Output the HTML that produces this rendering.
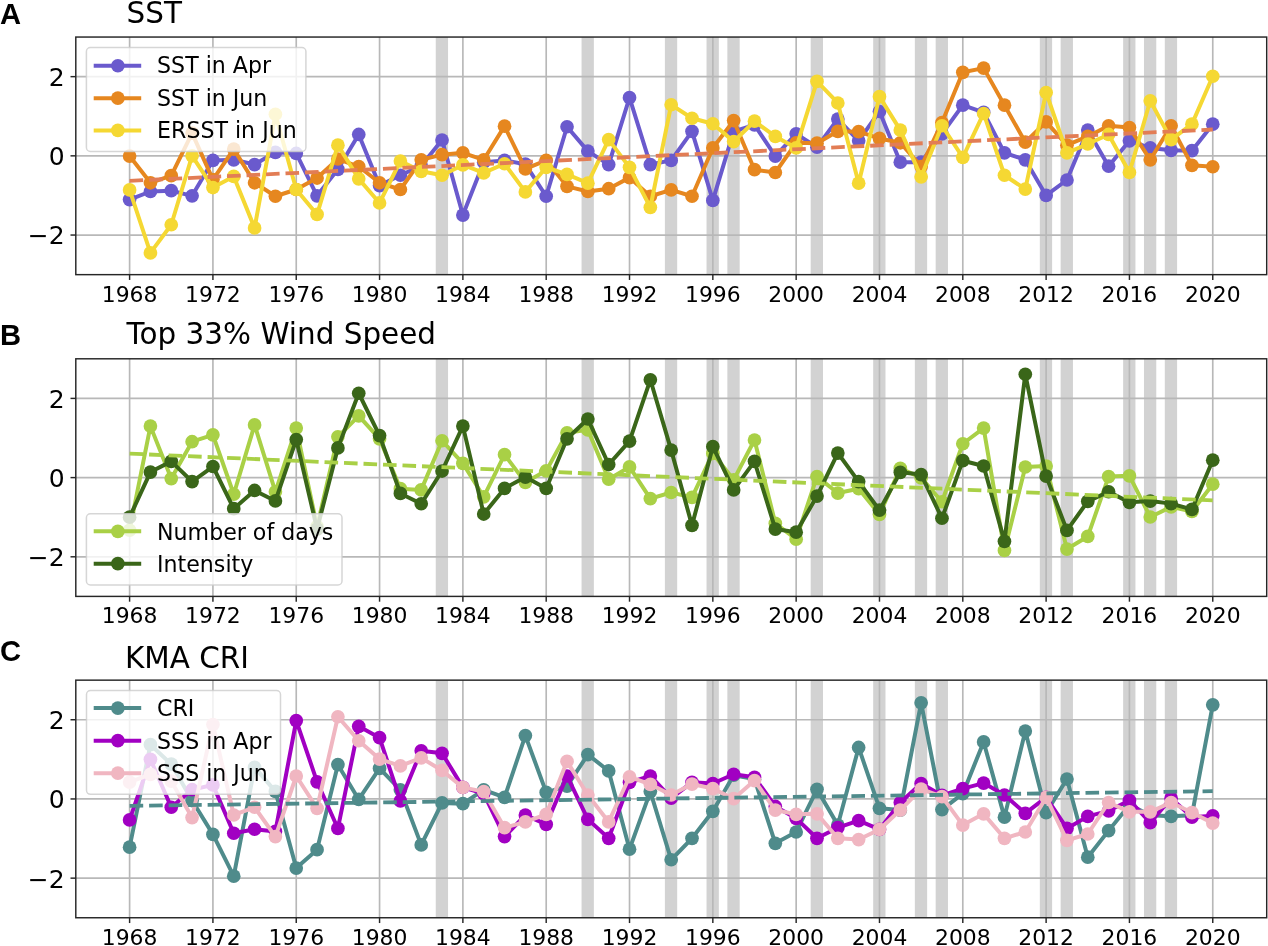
<!DOCTYPE html>
<html lang="en"><head><meta charset="utf-8"><title>SST, Wind Speed and KMA CRI time series</title>
<style>html,body{margin:0;padding:0;background:#fff}svg{display:block;will-change:transform}text{font-family:'DejaVu Sans','Liberation Sans',sans-serif;fill:#000}.lab{font-family:'Liberation Sans','DejaVu Sans',sans-serif;font-weight:bold}</style></head><body>
<svg width="1268" height="946" viewBox="0 0 1268 946">
<rect width="1268" height="946" fill="#fff"/>
<g id="panelA">
<clipPath id="clip0"><rect x="75.8" y="37.05" width="1190.90" height="237.60"/></clipPath>
<g fill="#d2d2d2">
<rect x="435.75" y="37.05" width="12.3" height="237.60"/>
<rect x="581.56" y="37.05" width="12.3" height="237.60"/>
<rect x="664.88" y="37.05" width="12.3" height="237.60"/>
<rect x="706.54" y="37.05" width="12.3" height="237.60"/>
<rect x="727.37" y="37.05" width="12.3" height="237.60"/>
<rect x="810.69" y="37.05" width="12.3" height="237.60"/>
<rect x="873.18" y="37.05" width="12.3" height="237.60"/>
<rect x="914.84" y="37.05" width="12.3" height="237.60"/>
<rect x="935.67" y="37.05" width="12.3" height="237.60"/>
<rect x="1039.82" y="37.05" width="12.3" height="237.60"/>
<rect x="1060.65" y="37.05" width="12.3" height="237.60"/>
<rect x="1123.14" y="37.05" width="12.3" height="237.60"/>
<rect x="1143.97" y="37.05" width="12.3" height="237.60"/>
<rect x="1164.80" y="37.05" width="12.3" height="237.60"/>
</g>
<g stroke="#b8b8b8" stroke-width="1.67" fill="none">
<line x1="129.60" x2="129.60" y1="37.05" y2="274.65"/>
<line x1="212.92" x2="212.92" y1="37.05" y2="274.65"/>
<line x1="296.24" x2="296.24" y1="37.05" y2="274.65"/>
<line x1="379.56" x2="379.56" y1="37.05" y2="274.65"/>
<line x1="462.88" x2="462.88" y1="37.05" y2="274.65"/>
<line x1="546.20" x2="546.20" y1="37.05" y2="274.65"/>
<line x1="629.52" x2="629.52" y1="37.05" y2="274.65"/>
<line x1="712.84" x2="712.84" y1="37.05" y2="274.65"/>
<line x1="796.16" x2="796.16" y1="37.05" y2="274.65"/>
<line x1="879.48" x2="879.48" y1="37.05" y2="274.65"/>
<line x1="962.80" x2="962.80" y1="37.05" y2="274.65"/>
<line x1="1046.12" x2="1046.12" y1="37.05" y2="274.65"/>
<line x1="1129.44" x2="1129.44" y1="37.05" y2="274.65"/>
<line x1="1212.76" x2="1212.76" y1="37.05" y2="274.65"/>
<line x1="75.8" x2="1266.7" y1="235.05" y2="235.05"/>
<line x1="75.8" x2="1266.7" y1="155.85" y2="155.85"/>
<line x1="75.8" x2="1266.7" y1="76.65" y2="76.65"/>
</g>
<g clip-path="url(#clip0)">
<polyline points="129.60,199.61 150.43,191.49 171.26,190.70 192.09,195.85 212.92,160.40 233.75,159.81 254.58,164.56 275.41,152.29 296.24,153.47 317.07,195.85 337.90,169.31 358.73,134.47 379.56,185.55 400.39,175.25 421.22,165.75 442.05,140.01 462.88,215.05 483.71,162.19 504.54,160.40 525.37,164.17 546.20,196.24 567.03,126.74 587.86,151.10 608.69,164.56 629.52,97.64 650.35,164.56 671.18,160.40 692.01,131.30 712.84,200.40 733.67,131.30 754.50,124.96 775.33,156.09 796.16,133.83 816.99,147.14 837.82,119.02 858.65,140.80 879.48,111.50 900.31,162.19 921.14,162.19 941.97,133.83 962.80,105.16 983.63,112.29 1004.46,152.80 1025.29,159.81 1046.12,195.45 1066.95,180.01 1087.78,130.11 1108.61,166.15 1129.44,140.80 1150.27,147.93 1171.10,150.31 1191.93,150.70 1212.76,124.17" fill="none" stroke="#6a5acd" stroke-width="4.0" stroke-linejoin="round" stroke-linecap="butt"/>
<g fill="#6a5acd">
<circle cx="129.60" cy="199.61" r="6.85"/>
<circle cx="150.43" cy="191.49" r="6.85"/>
<circle cx="171.26" cy="190.70" r="6.85"/>
<circle cx="192.09" cy="195.85" r="6.85"/>
<circle cx="212.92" cy="160.40" r="6.85"/>
<circle cx="233.75" cy="159.81" r="6.85"/>
<circle cx="254.58" cy="164.56" r="6.85"/>
<circle cx="275.41" cy="152.29" r="6.85"/>
<circle cx="296.24" cy="153.47" r="6.85"/>
<circle cx="317.07" cy="195.85" r="6.85"/>
<circle cx="337.90" cy="169.31" r="6.85"/>
<circle cx="358.73" cy="134.47" r="6.85"/>
<circle cx="379.56" cy="185.55" r="6.85"/>
<circle cx="400.39" cy="175.25" r="6.85"/>
<circle cx="421.22" cy="165.75" r="6.85"/>
<circle cx="442.05" cy="140.01" r="6.85"/>
<circle cx="462.88" cy="215.05" r="6.85"/>
<circle cx="483.71" cy="162.19" r="6.85"/>
<circle cx="504.54" cy="160.40" r="6.85"/>
<circle cx="525.37" cy="164.17" r="6.85"/>
<circle cx="546.20" cy="196.24" r="6.85"/>
<circle cx="567.03" cy="126.74" r="6.85"/>
<circle cx="587.86" cy="151.10" r="6.85"/>
<circle cx="608.69" cy="164.56" r="6.85"/>
<circle cx="629.52" cy="97.64" r="6.85"/>
<circle cx="650.35" cy="164.56" r="6.85"/>
<circle cx="671.18" cy="160.40" r="6.85"/>
<circle cx="692.01" cy="131.30" r="6.85"/>
<circle cx="712.84" cy="200.40" r="6.85"/>
<circle cx="733.67" cy="131.30" r="6.85"/>
<circle cx="754.50" cy="124.96" r="6.85"/>
<circle cx="775.33" cy="156.09" r="6.85"/>
<circle cx="796.16" cy="133.83" r="6.85"/>
<circle cx="816.99" cy="147.14" r="6.85"/>
<circle cx="837.82" cy="119.02" r="6.85"/>
<circle cx="858.65" cy="140.80" r="6.85"/>
<circle cx="879.48" cy="111.50" r="6.85"/>
<circle cx="900.31" cy="162.19" r="6.85"/>
<circle cx="921.14" cy="162.19" r="6.85"/>
<circle cx="941.97" cy="133.83" r="6.85"/>
<circle cx="962.80" cy="105.16" r="6.85"/>
<circle cx="983.63" cy="112.29" r="6.85"/>
<circle cx="1004.46" cy="152.80" r="6.85"/>
<circle cx="1025.29" cy="159.81" r="6.85"/>
<circle cx="1046.12" cy="195.45" r="6.85"/>
<circle cx="1066.95" cy="180.01" r="6.85"/>
<circle cx="1087.78" cy="130.11" r="6.85"/>
<circle cx="1108.61" cy="166.15" r="6.85"/>
<circle cx="1129.44" cy="140.80" r="6.85"/>
<circle cx="1150.27" cy="147.93" r="6.85"/>
<circle cx="1171.10" cy="150.31" r="6.85"/>
<circle cx="1191.93" cy="150.70" r="6.85"/>
<circle cx="1212.76" cy="124.17" r="6.85"/>
</g>
<polyline points="129.60,156.09 150.43,182.78 171.26,175.65 192.09,133.08 212.92,179.61 233.75,149.12 254.58,182.78 275.41,196.24 296.24,189.51 317.07,178.03 337.90,159.02 358.73,166.54 379.56,182.78 400.39,189.51 421.22,159.81 442.05,154.66 462.88,152.80 483.71,159.81 504.54,126.15 525.37,168.92 546.20,160.40 567.03,186.34 587.86,191.49 608.69,188.72 629.52,177.63 650.35,196.24 671.18,189.91 692.01,196.24 712.84,147.93 733.67,120.61 754.50,169.71 775.33,172.48 796.16,142.78 816.99,143.18 837.82,131.30 858.65,131.69 879.48,138.43 900.31,142.78 921.14,166.54 941.97,122.59 962.80,72.29 983.63,68.14 1004.46,105.16 1025.29,142.19 1046.12,121.95 1066.95,145.16 1087.78,136.45 1108.61,125.75 1129.44,127.54 1150.27,159.81 1171.10,125.75 1191.93,165.35 1212.76,166.74" fill="none" stroke="#e6871f" stroke-width="4.0" stroke-linejoin="round" stroke-linecap="butt"/>
<g fill="#e6871f">
<circle cx="129.60" cy="156.09" r="6.85"/>
<circle cx="150.43" cy="182.78" r="6.85"/>
<circle cx="171.26" cy="175.65" r="6.85"/>
<circle cx="192.09" cy="133.08" r="6.85"/>
<circle cx="212.92" cy="179.61" r="6.85"/>
<circle cx="233.75" cy="149.12" r="6.85"/>
<circle cx="254.58" cy="182.78" r="6.85"/>
<circle cx="275.41" cy="196.24" r="6.85"/>
<circle cx="296.24" cy="189.51" r="6.85"/>
<circle cx="317.07" cy="178.03" r="6.85"/>
<circle cx="337.90" cy="159.02" r="6.85"/>
<circle cx="358.73" cy="166.54" r="6.85"/>
<circle cx="379.56" cy="182.78" r="6.85"/>
<circle cx="400.39" cy="189.51" r="6.85"/>
<circle cx="421.22" cy="159.81" r="6.85"/>
<circle cx="442.05" cy="154.66" r="6.85"/>
<circle cx="462.88" cy="152.80" r="6.85"/>
<circle cx="483.71" cy="159.81" r="6.85"/>
<circle cx="504.54" cy="126.15" r="6.85"/>
<circle cx="525.37" cy="168.92" r="6.85"/>
<circle cx="546.20" cy="160.40" r="6.85"/>
<circle cx="567.03" cy="186.34" r="6.85"/>
<circle cx="587.86" cy="191.49" r="6.85"/>
<circle cx="608.69" cy="188.72" r="6.85"/>
<circle cx="629.52" cy="177.63" r="6.85"/>
<circle cx="650.35" cy="196.24" r="6.85"/>
<circle cx="671.18" cy="189.91" r="6.85"/>
<circle cx="692.01" cy="196.24" r="6.85"/>
<circle cx="712.84" cy="147.93" r="6.85"/>
<circle cx="733.67" cy="120.61" r="6.85"/>
<circle cx="754.50" cy="169.71" r="6.85"/>
<circle cx="775.33" cy="172.48" r="6.85"/>
<circle cx="796.16" cy="142.78" r="6.85"/>
<circle cx="816.99" cy="143.18" r="6.85"/>
<circle cx="837.82" cy="131.30" r="6.85"/>
<circle cx="858.65" cy="131.69" r="6.85"/>
<circle cx="879.48" cy="138.43" r="6.85"/>
<circle cx="900.31" cy="142.78" r="6.85"/>
<circle cx="921.14" cy="166.54" r="6.85"/>
<circle cx="941.97" cy="122.59" r="6.85"/>
<circle cx="962.80" cy="72.29" r="6.85"/>
<circle cx="983.63" cy="68.14" r="6.85"/>
<circle cx="1004.46" cy="105.16" r="6.85"/>
<circle cx="1025.29" cy="142.19" r="6.85"/>
<circle cx="1046.12" cy="121.95" r="6.85"/>
<circle cx="1066.95" cy="145.16" r="6.85"/>
<circle cx="1087.78" cy="136.45" r="6.85"/>
<circle cx="1108.61" cy="125.75" r="6.85"/>
<circle cx="1129.44" cy="127.54" r="6.85"/>
<circle cx="1150.27" cy="159.81" r="6.85"/>
<circle cx="1171.10" cy="125.75" r="6.85"/>
<circle cx="1191.93" cy="165.35" r="6.85"/>
<circle cx="1212.76" cy="166.74" r="6.85"/>
</g>
<polyline points="129.60,189.91 150.43,252.87 171.26,224.75 192.09,155.85 212.92,187.53 233.75,176.44 254.58,227.92 275.41,114.27 296.24,189.51 317.07,214.46 337.90,145.16 358.73,178.82 379.56,202.97 400.39,161.00 421.22,171.29 442.05,175.25 462.88,164.96 483.71,172.88 504.54,163.77 525.37,191.89 546.20,167.33 567.03,174.46 587.86,183.17 608.69,139.61 629.52,167.33 650.35,207.33 671.18,104.77 692.01,118.23 712.84,123.77 733.67,141.59 754.50,121.20 775.33,136.45 796.16,147.93 816.99,81.40 837.82,102.98 858.65,183.17 879.48,96.65 900.31,130.11 921.14,176.84 941.97,125.75 962.80,157.43 983.63,113.48 1004.46,175.25 1025.29,189.11 1046.12,92.49 1066.95,152.80 1087.78,143.97 1108.61,134.47 1129.44,172.48 1150.27,100.81 1171.10,139.61 1191.93,124.17 1212.76,76.25" fill="none" stroke="#f5d833" stroke-width="4.0" stroke-linejoin="round" stroke-linecap="butt"/>
<g fill="#f5d833">
<circle cx="129.60" cy="189.91" r="6.85"/>
<circle cx="150.43" cy="252.87" r="6.85"/>
<circle cx="171.26" cy="224.75" r="6.85"/>
<circle cx="192.09" cy="155.85" r="6.85"/>
<circle cx="212.92" cy="187.53" r="6.85"/>
<circle cx="233.75" cy="176.44" r="6.85"/>
<circle cx="254.58" cy="227.92" r="6.85"/>
<circle cx="275.41" cy="114.27" r="6.85"/>
<circle cx="296.24" cy="189.51" r="6.85"/>
<circle cx="317.07" cy="214.46" r="6.85"/>
<circle cx="337.90" cy="145.16" r="6.85"/>
<circle cx="358.73" cy="178.82" r="6.85"/>
<circle cx="379.56" cy="202.97" r="6.85"/>
<circle cx="400.39" cy="161.00" r="6.85"/>
<circle cx="421.22" cy="171.29" r="6.85"/>
<circle cx="442.05" cy="175.25" r="6.85"/>
<circle cx="462.88" cy="164.96" r="6.85"/>
<circle cx="483.71" cy="172.88" r="6.85"/>
<circle cx="504.54" cy="163.77" r="6.85"/>
<circle cx="525.37" cy="191.89" r="6.85"/>
<circle cx="546.20" cy="167.33" r="6.85"/>
<circle cx="567.03" cy="174.46" r="6.85"/>
<circle cx="587.86" cy="183.17" r="6.85"/>
<circle cx="608.69" cy="139.61" r="6.85"/>
<circle cx="629.52" cy="167.33" r="6.85"/>
<circle cx="650.35" cy="207.33" r="6.85"/>
<circle cx="671.18" cy="104.77" r="6.85"/>
<circle cx="692.01" cy="118.23" r="6.85"/>
<circle cx="712.84" cy="123.77" r="6.85"/>
<circle cx="733.67" cy="141.59" r="6.85"/>
<circle cx="754.50" cy="121.20" r="6.85"/>
<circle cx="775.33" cy="136.45" r="6.85"/>
<circle cx="796.16" cy="147.93" r="6.85"/>
<circle cx="816.99" cy="81.40" r="6.85"/>
<circle cx="837.82" cy="102.98" r="6.85"/>
<circle cx="858.65" cy="183.17" r="6.85"/>
<circle cx="879.48" cy="96.65" r="6.85"/>
<circle cx="900.31" cy="130.11" r="6.85"/>
<circle cx="921.14" cy="176.84" r="6.85"/>
<circle cx="941.97" cy="125.75" r="6.85"/>
<circle cx="962.80" cy="157.43" r="6.85"/>
<circle cx="983.63" cy="113.48" r="6.85"/>
<circle cx="1004.46" cy="175.25" r="6.85"/>
<circle cx="1025.29" cy="189.11" r="6.85"/>
<circle cx="1046.12" cy="92.49" r="6.85"/>
<circle cx="1066.95" cy="152.80" r="6.85"/>
<circle cx="1087.78" cy="143.97" r="6.85"/>
<circle cx="1108.61" cy="134.47" r="6.85"/>
<circle cx="1129.44" cy="172.48" r="6.85"/>
<circle cx="1150.27" cy="100.81" r="6.85"/>
<circle cx="1171.10" cy="139.61" r="6.85"/>
<circle cx="1191.93" cy="124.17" r="6.85"/>
<circle cx="1212.76" cy="76.25" r="6.85"/>
</g>
<line x1="129.60" y1="180.80" x2="1212.76" y2="129.52" stroke="#e27d55" stroke-width="3.8" stroke-dasharray="13.61 5.9"/>
</g>
<rect x="75.8" y="37.05" width="1190.90" height="237.60" fill="none" stroke="#262626" stroke-width="1.45"/>
<g stroke="#262626" stroke-width="1.45">
<line x1="129.60" x2="129.60" y1="274.65" y2="279.95"/>
<line x1="212.92" x2="212.92" y1="274.65" y2="279.95"/>
<line x1="296.24" x2="296.24" y1="274.65" y2="279.95"/>
<line x1="379.56" x2="379.56" y1="274.65" y2="279.95"/>
<line x1="462.88" x2="462.88" y1="274.65" y2="279.95"/>
<line x1="546.20" x2="546.20" y1="274.65" y2="279.95"/>
<line x1="629.52" x2="629.52" y1="274.65" y2="279.95"/>
<line x1="712.84" x2="712.84" y1="274.65" y2="279.95"/>
<line x1="796.16" x2="796.16" y1="274.65" y2="279.95"/>
<line x1="879.48" x2="879.48" y1="274.65" y2="279.95"/>
<line x1="962.80" x2="962.80" y1="274.65" y2="279.95"/>
<line x1="1046.12" x2="1046.12" y1="274.65" y2="279.95"/>
<line x1="1129.44" x2="1129.44" y1="274.65" y2="279.95"/>
<line x1="1212.76" x2="1212.76" y1="274.65" y2="279.95"/>
<line x1="70.50" x2="75.8" y1="235.05" y2="235.05"/>
<line x1="70.50" x2="75.8" y1="155.85" y2="155.85"/>
<line x1="70.50" x2="75.8" y1="76.65" y2="76.65"/>
</g>
<g font-size="21.875">
<text x="129.60" y="301.55" text-anchor="middle">1968</text>
<text x="212.92" y="301.55" text-anchor="middle">1972</text>
<text x="296.24" y="301.55" text-anchor="middle">1976</text>
<text x="379.56" y="301.55" text-anchor="middle">1980</text>
<text x="462.88" y="301.55" text-anchor="middle">1984</text>
<text x="546.20" y="301.55" text-anchor="middle">1988</text>
<text x="629.52" y="301.55" text-anchor="middle">1992</text>
<text x="712.84" y="301.55" text-anchor="middle">1996</text>
<text x="796.16" y="301.55" text-anchor="middle">2000</text>
<text x="879.48" y="301.55" text-anchor="middle">2004</text>
<text x="962.80" y="301.55" text-anchor="middle">2008</text>
<text x="1046.12" y="301.55" text-anchor="middle">2012</text>
<text x="1129.44" y="301.55" text-anchor="middle">2016</text>
<text x="1212.76" y="301.55" text-anchor="middle">2020</text>
<text x="64.70" y="244.40" text-anchor="end" font-size="25.0">−2</text>
<text x="64.70" y="165.20" text-anchor="end" font-size="25.0">0</text>
<text x="64.70" y="86.00" text-anchor="end" font-size="25.0">2</text>
</g>
<rect x="86.4" y="47.5" width="219.5" height="104.00" rx="4" ry="4" fill="#fff" fill-opacity="0.8" stroke="#ccc" stroke-opacity="0.8" stroke-width="1.5"/>
<line x1="93.7" x2="141.2" y1="65.75" y2="65.75" stroke="#6a5acd" stroke-width="4.0"/>
<circle cx="117.85" cy="65.75" r="6.85" fill="#6a5acd"/>
<text x="157.1" y="73.35" font-size="22.1">SST in Apr</text>
<line x1="93.7" x2="141.2" y1="98.15" y2="98.15" stroke="#e6871f" stroke-width="4.0"/>
<circle cx="117.85" cy="98.15" r="6.85" fill="#e6871f"/>
<text x="157.1" y="105.75" font-size="22.1">SST in Jun</text>
<line x1="93.7" x2="141.2" y1="130.45" y2="130.45" stroke="#f5d833" stroke-width="4.0"/>
<circle cx="117.85" cy="130.45" r="6.85" fill="#f5d833"/>
<text x="157.1" y="138.05" font-size="22.1">ERSST in Jun</text>
<text x="126.6" y="22.7" font-size="29.45">SST</text>
<text class="lab" x="0" y="24.0" font-size="29.17">A</text>
</g>
<g id="panelB">
<clipPath id="clip1"><rect x="75.8" y="358.80" width="1190.90" height="237.60"/></clipPath>
<g fill="#d2d2d2">
<rect x="435.75" y="358.80" width="12.3" height="237.60"/>
<rect x="581.56" y="358.80" width="12.3" height="237.60"/>
<rect x="664.88" y="358.80" width="12.3" height="237.60"/>
<rect x="706.54" y="358.80" width="12.3" height="237.60"/>
<rect x="727.37" y="358.80" width="12.3" height="237.60"/>
<rect x="810.69" y="358.80" width="12.3" height="237.60"/>
<rect x="873.18" y="358.80" width="12.3" height="237.60"/>
<rect x="914.84" y="358.80" width="12.3" height="237.60"/>
<rect x="935.67" y="358.80" width="12.3" height="237.60"/>
<rect x="1039.82" y="358.80" width="12.3" height="237.60"/>
<rect x="1060.65" y="358.80" width="12.3" height="237.60"/>
<rect x="1123.14" y="358.80" width="12.3" height="237.60"/>
<rect x="1143.97" y="358.80" width="12.3" height="237.60"/>
<rect x="1164.80" y="358.80" width="12.3" height="237.60"/>
</g>
<g stroke="#b8b8b8" stroke-width="1.67" fill="none">
<line x1="129.60" x2="129.60" y1="358.80" y2="596.40"/>
<line x1="212.92" x2="212.92" y1="358.80" y2="596.40"/>
<line x1="296.24" x2="296.24" y1="358.80" y2="596.40"/>
<line x1="379.56" x2="379.56" y1="358.80" y2="596.40"/>
<line x1="462.88" x2="462.88" y1="358.80" y2="596.40"/>
<line x1="546.20" x2="546.20" y1="358.80" y2="596.40"/>
<line x1="629.52" x2="629.52" y1="358.80" y2="596.40"/>
<line x1="712.84" x2="712.84" y1="358.80" y2="596.40"/>
<line x1="796.16" x2="796.16" y1="358.80" y2="596.40"/>
<line x1="879.48" x2="879.48" y1="358.80" y2="596.40"/>
<line x1="962.80" x2="962.80" y1="358.80" y2="596.40"/>
<line x1="1046.12" x2="1046.12" y1="358.80" y2="596.40"/>
<line x1="1129.44" x2="1129.44" y1="358.80" y2="596.40"/>
<line x1="1212.76" x2="1212.76" y1="358.80" y2="596.40"/>
<line x1="75.8" x2="1266.7" y1="556.80" y2="556.80"/>
<line x1="75.8" x2="1266.7" y1="477.60" y2="477.60"/>
<line x1="75.8" x2="1266.7" y1="398.40" y2="398.40"/>
</g>
<g clip-path="url(#clip1)">
<polyline points="129.60,530.27 150.43,426.12 171.26,478.59 192.09,441.72 212.92,434.83 233.75,494.23 254.58,424.93 275.41,491.86 296.24,428.10 317.07,526.70 337.90,436.81 358.73,415.82 379.56,438.79 400.39,488.69 421.22,489.88 442.05,440.77 462.88,463.46 483.71,496.81 504.54,454.63 525.37,482.35 546.20,470.87 567.03,432.85 587.86,429.88 608.69,479.18 629.52,466.91 650.35,498.59 671.18,492.49 692.01,497.40 712.84,453.44 733.67,479.86 754.50,439.98 775.33,523.34 796.16,539.26 816.99,476.57 837.82,493.04 858.65,488.69 879.48,514.43 900.31,468.25 921.14,477.84 941.97,501.76 962.80,443.74 983.63,428.10 1004.46,550.46 1025.29,466.99 1046.12,466.00 1066.95,549.08 1087.78,536.45 1108.61,476.57 1129.44,475.82 1150.27,517.00 1171.10,506.90 1191.93,511.46 1212.76,484.17" fill="none" stroke="#a9d046" stroke-width="4.0" stroke-linejoin="round" stroke-linecap="butt"/>
<g fill="#a9d046">
<circle cx="129.60" cy="530.27" r="6.85"/>
<circle cx="150.43" cy="426.12" r="6.85"/>
<circle cx="171.26" cy="478.59" r="6.85"/>
<circle cx="192.09" cy="441.72" r="6.85"/>
<circle cx="212.92" cy="434.83" r="6.85"/>
<circle cx="233.75" cy="494.23" r="6.85"/>
<circle cx="254.58" cy="424.93" r="6.85"/>
<circle cx="275.41" cy="491.86" r="6.85"/>
<circle cx="296.24" cy="428.10" r="6.85"/>
<circle cx="317.07" cy="526.70" r="6.85"/>
<circle cx="337.90" cy="436.81" r="6.85"/>
<circle cx="358.73" cy="415.82" r="6.85"/>
<circle cx="379.56" cy="438.79" r="6.85"/>
<circle cx="400.39" cy="488.69" r="6.85"/>
<circle cx="421.22" cy="489.88" r="6.85"/>
<circle cx="442.05" cy="440.77" r="6.85"/>
<circle cx="462.88" cy="463.46" r="6.85"/>
<circle cx="483.71" cy="496.81" r="6.85"/>
<circle cx="504.54" cy="454.63" r="6.85"/>
<circle cx="525.37" cy="482.35" r="6.85"/>
<circle cx="546.20" cy="470.87" r="6.85"/>
<circle cx="567.03" cy="432.85" r="6.85"/>
<circle cx="587.86" cy="429.88" r="6.85"/>
<circle cx="608.69" cy="479.18" r="6.85"/>
<circle cx="629.52" cy="466.91" r="6.85"/>
<circle cx="650.35" cy="498.59" r="6.85"/>
<circle cx="671.18" cy="492.49" r="6.85"/>
<circle cx="692.01" cy="497.40" r="6.85"/>
<circle cx="712.84" cy="453.44" r="6.85"/>
<circle cx="733.67" cy="479.86" r="6.85"/>
<circle cx="754.50" cy="439.98" r="6.85"/>
<circle cx="775.33" cy="523.34" r="6.85"/>
<circle cx="796.16" cy="539.26" r="6.85"/>
<circle cx="816.99" cy="476.57" r="6.85"/>
<circle cx="837.82" cy="493.04" r="6.85"/>
<circle cx="858.65" cy="488.69" r="6.85"/>
<circle cx="879.48" cy="514.43" r="6.85"/>
<circle cx="900.31" cy="468.25" r="6.85"/>
<circle cx="921.14" cy="477.84" r="6.85"/>
<circle cx="941.97" cy="501.76" r="6.85"/>
<circle cx="962.80" cy="443.74" r="6.85"/>
<circle cx="983.63" cy="428.10" r="6.85"/>
<circle cx="1004.46" cy="550.46" r="6.85"/>
<circle cx="1025.29" cy="466.99" r="6.85"/>
<circle cx="1046.12" cy="466.00" r="6.85"/>
<circle cx="1066.95" cy="549.08" r="6.85"/>
<circle cx="1087.78" cy="536.45" r="6.85"/>
<circle cx="1108.61" cy="476.57" r="6.85"/>
<circle cx="1129.44" cy="475.82" r="6.85"/>
<circle cx="1150.27" cy="517.00" r="6.85"/>
<circle cx="1171.10" cy="506.90" r="6.85"/>
<circle cx="1191.93" cy="511.46" r="6.85"/>
<circle cx="1212.76" cy="484.17" r="6.85"/>
</g>
<polyline points="129.60,517.20 150.43,472.06 171.26,461.36 192.09,481.56 212.92,466.51 233.75,508.69 254.58,490.47 275.41,500.96 296.24,439.58 317.07,529.08 337.90,447.90 358.73,393.25 379.56,435.62 400.39,493.44 421.22,503.74 442.05,471.03 462.88,426.12 483.71,514.03 504.54,488.45 525.37,477.09 546.20,488.45 567.03,438.79 587.86,418.99 608.69,464.53 629.52,441.17 650.35,379.79 671.18,450.08 692.01,525.36 712.84,446.71 733.67,489.88 754.50,461.36 775.33,529.08 796.16,532.17 816.99,496.05 837.82,453.05 858.65,481.56 879.48,510.19 900.31,472.29 921.14,474.55 941.97,518.27 962.80,460.69 983.63,466.00 1004.46,541.36 1025.29,374.24 1046.12,476.10 1066.95,530.39 1087.78,501.36 1108.61,491.74 1129.44,502.35 1150.27,501.08 1171.10,503.62 1191.93,509.44 1212.76,460.18" fill="none" stroke="#3a6619" stroke-width="4.0" stroke-linejoin="round" stroke-linecap="butt"/>
<g fill="#3a6619">
<circle cx="129.60" cy="517.20" r="6.85"/>
<circle cx="150.43" cy="472.06" r="6.85"/>
<circle cx="171.26" cy="461.36" r="6.85"/>
<circle cx="192.09" cy="481.56" r="6.85"/>
<circle cx="212.92" cy="466.51" r="6.85"/>
<circle cx="233.75" cy="508.69" r="6.85"/>
<circle cx="254.58" cy="490.47" r="6.85"/>
<circle cx="275.41" cy="500.96" r="6.85"/>
<circle cx="296.24" cy="439.58" r="6.85"/>
<circle cx="317.07" cy="529.08" r="6.85"/>
<circle cx="337.90" cy="447.90" r="6.85"/>
<circle cx="358.73" cy="393.25" r="6.85"/>
<circle cx="379.56" cy="435.62" r="6.85"/>
<circle cx="400.39" cy="493.44" r="6.85"/>
<circle cx="421.22" cy="503.74" r="6.85"/>
<circle cx="442.05" cy="471.03" r="6.85"/>
<circle cx="462.88" cy="426.12" r="6.85"/>
<circle cx="483.71" cy="514.03" r="6.85"/>
<circle cx="504.54" cy="488.45" r="6.85"/>
<circle cx="525.37" cy="477.09" r="6.85"/>
<circle cx="546.20" cy="488.45" r="6.85"/>
<circle cx="567.03" cy="438.79" r="6.85"/>
<circle cx="587.86" cy="418.99" r="6.85"/>
<circle cx="608.69" cy="464.53" r="6.85"/>
<circle cx="629.52" cy="441.17" r="6.85"/>
<circle cx="650.35" cy="379.79" r="6.85"/>
<circle cx="671.18" cy="450.08" r="6.85"/>
<circle cx="692.01" cy="525.36" r="6.85"/>
<circle cx="712.84" cy="446.71" r="6.85"/>
<circle cx="733.67" cy="489.88" r="6.85"/>
<circle cx="754.50" cy="461.36" r="6.85"/>
<circle cx="775.33" cy="529.08" r="6.85"/>
<circle cx="796.16" cy="532.17" r="6.85"/>
<circle cx="816.99" cy="496.05" r="6.85"/>
<circle cx="837.82" cy="453.05" r="6.85"/>
<circle cx="858.65" cy="481.56" r="6.85"/>
<circle cx="879.48" cy="510.19" r="6.85"/>
<circle cx="900.31" cy="472.29" r="6.85"/>
<circle cx="921.14" cy="474.55" r="6.85"/>
<circle cx="941.97" cy="518.27" r="6.85"/>
<circle cx="962.80" cy="460.69" r="6.85"/>
<circle cx="983.63" cy="466.00" r="6.85"/>
<circle cx="1004.46" cy="541.36" r="6.85"/>
<circle cx="1025.29" cy="374.24" r="6.85"/>
<circle cx="1046.12" cy="476.10" r="6.85"/>
<circle cx="1066.95" cy="530.39" r="6.85"/>
<circle cx="1087.78" cy="501.36" r="6.85"/>
<circle cx="1108.61" cy="491.74" r="6.85"/>
<circle cx="1129.44" cy="502.35" r="6.85"/>
<circle cx="1150.27" cy="501.08" r="6.85"/>
<circle cx="1171.10" cy="503.62" r="6.85"/>
<circle cx="1191.93" cy="509.44" r="6.85"/>
<circle cx="1212.76" cy="460.18" r="6.85"/>
</g>
<line x1="129.60" y1="453.64" x2="1212.76" y2="500.37" stroke="#a9d046" stroke-width="3.8" stroke-dasharray="13.61 5.9"/>
</g>
<rect x="75.8" y="358.80" width="1190.90" height="237.60" fill="none" stroke="#262626" stroke-width="1.45"/>
<g stroke="#262626" stroke-width="1.45">
<line x1="129.60" x2="129.60" y1="596.40" y2="601.70"/>
<line x1="212.92" x2="212.92" y1="596.40" y2="601.70"/>
<line x1="296.24" x2="296.24" y1="596.40" y2="601.70"/>
<line x1="379.56" x2="379.56" y1="596.40" y2="601.70"/>
<line x1="462.88" x2="462.88" y1="596.40" y2="601.70"/>
<line x1="546.20" x2="546.20" y1="596.40" y2="601.70"/>
<line x1="629.52" x2="629.52" y1="596.40" y2="601.70"/>
<line x1="712.84" x2="712.84" y1="596.40" y2="601.70"/>
<line x1="796.16" x2="796.16" y1="596.40" y2="601.70"/>
<line x1="879.48" x2="879.48" y1="596.40" y2="601.70"/>
<line x1="962.80" x2="962.80" y1="596.40" y2="601.70"/>
<line x1="1046.12" x2="1046.12" y1="596.40" y2="601.70"/>
<line x1="1129.44" x2="1129.44" y1="596.40" y2="601.70"/>
<line x1="1212.76" x2="1212.76" y1="596.40" y2="601.70"/>
<line x1="70.50" x2="75.8" y1="556.80" y2="556.80"/>
<line x1="70.50" x2="75.8" y1="477.60" y2="477.60"/>
<line x1="70.50" x2="75.8" y1="398.40" y2="398.40"/>
</g>
<g font-size="21.875">
<text x="129.60" y="623.30" text-anchor="middle">1968</text>
<text x="212.92" y="623.30" text-anchor="middle">1972</text>
<text x="296.24" y="623.30" text-anchor="middle">1976</text>
<text x="379.56" y="623.30" text-anchor="middle">1980</text>
<text x="462.88" y="623.30" text-anchor="middle">1984</text>
<text x="546.20" y="623.30" text-anchor="middle">1988</text>
<text x="629.52" y="623.30" text-anchor="middle">1992</text>
<text x="712.84" y="623.30" text-anchor="middle">1996</text>
<text x="796.16" y="623.30" text-anchor="middle">2000</text>
<text x="879.48" y="623.30" text-anchor="middle">2004</text>
<text x="962.80" y="623.30" text-anchor="middle">2008</text>
<text x="1046.12" y="623.30" text-anchor="middle">2012</text>
<text x="1129.44" y="623.30" text-anchor="middle">2016</text>
<text x="1212.76" y="623.30" text-anchor="middle">2020</text>
<text x="64.70" y="566.15" text-anchor="end" font-size="25.0">−2</text>
<text x="64.70" y="486.95" text-anchor="end" font-size="25.0">0</text>
<text x="64.70" y="407.75" text-anchor="end" font-size="25.0">2</text>
</g>
<rect x="86.4" y="513.8" width="255.6" height="71.10" rx="4" ry="4" fill="#fff" fill-opacity="0.8" stroke="#ccc" stroke-opacity="0.8" stroke-width="1.5"/>
<line x1="93.7" x2="141.2" y1="531.3" y2="531.3" stroke="#a9d046" stroke-width="4.0"/>
<circle cx="117.85" cy="531.3" r="6.85" fill="#a9d046"/>
<text x="157.1" y="539.70" font-size="22.1">Number of days</text>
<line x1="93.7" x2="141.2" y1="563.7" y2="563.7" stroke="#3a6619" stroke-width="4.0"/>
<circle cx="117.85" cy="563.7" r="6.85" fill="#3a6619"/>
<text x="157.1" y="572.10" font-size="22.1">Intensity</text>
<text x="126.6" y="344.4" font-size="29.45">Top 33% Wind Speed</text>
<text class="lab" x="0" y="345.2" font-size="29.17">B</text>
</g>
<g id="panelC">
<clipPath id="clip2"><rect x="75.8" y="680.15" width="1190.90" height="237.60"/></clipPath>
<g fill="#d2d2d2">
<rect x="435.75" y="680.15" width="12.3" height="237.60"/>
<rect x="581.56" y="680.15" width="12.3" height="237.60"/>
<rect x="664.88" y="680.15" width="12.3" height="237.60"/>
<rect x="706.54" y="680.15" width="12.3" height="237.60"/>
<rect x="727.37" y="680.15" width="12.3" height="237.60"/>
<rect x="810.69" y="680.15" width="12.3" height="237.60"/>
<rect x="873.18" y="680.15" width="12.3" height="237.60"/>
<rect x="914.84" y="680.15" width="12.3" height="237.60"/>
<rect x="935.67" y="680.15" width="12.3" height="237.60"/>
<rect x="1039.82" y="680.15" width="12.3" height="237.60"/>
<rect x="1060.65" y="680.15" width="12.3" height="237.60"/>
<rect x="1123.14" y="680.15" width="12.3" height="237.60"/>
<rect x="1143.97" y="680.15" width="12.3" height="237.60"/>
<rect x="1164.80" y="680.15" width="12.3" height="237.60"/>
</g>
<g stroke="#b8b8b8" stroke-width="1.67" fill="none">
<line x1="129.60" x2="129.60" y1="680.15" y2="917.75"/>
<line x1="212.92" x2="212.92" y1="680.15" y2="917.75"/>
<line x1="296.24" x2="296.24" y1="680.15" y2="917.75"/>
<line x1="379.56" x2="379.56" y1="680.15" y2="917.75"/>
<line x1="462.88" x2="462.88" y1="680.15" y2="917.75"/>
<line x1="546.20" x2="546.20" y1="680.15" y2="917.75"/>
<line x1="629.52" x2="629.52" y1="680.15" y2="917.75"/>
<line x1="712.84" x2="712.84" y1="680.15" y2="917.75"/>
<line x1="796.16" x2="796.16" y1="680.15" y2="917.75"/>
<line x1="879.48" x2="879.48" y1="680.15" y2="917.75"/>
<line x1="962.80" x2="962.80" y1="680.15" y2="917.75"/>
<line x1="1046.12" x2="1046.12" y1="680.15" y2="917.75"/>
<line x1="1129.44" x2="1129.44" y1="680.15" y2="917.75"/>
<line x1="1212.76" x2="1212.76" y1="680.15" y2="917.75"/>
<line x1="75.8" x2="1266.7" y1="878.15" y2="878.15"/>
<line x1="75.8" x2="1266.7" y1="798.95" y2="798.95"/>
<line x1="75.8" x2="1266.7" y1="719.75" y2="719.75"/>
</g>
<g clip-path="url(#clip2)">
<polyline points="129.60,847.14 150.43,744.70 171.26,764.10 192.09,800.53 212.92,834.39 233.75,876.17 254.58,767.27 275.41,791.43 296.24,868.05 317.07,849.64 337.90,764.66 358.73,799.46 379.56,768.46 400.39,789.84 421.22,844.89 442.05,802.91 462.88,803.70 483.71,789.84 504.54,797.45 525.37,735.59 546.20,792.38 567.03,786.08 587.86,754.60 608.69,770.95 629.52,849.16 650.35,791.62 671.18,859.74 692.01,838.31 712.84,811.31 733.67,775.19 754.50,779.15 775.33,843.30 796.16,831.98 816.99,789.37 837.82,825.09 858.65,747.47 879.48,808.30 900.31,810.04 921.14,702.84 941.97,809.56 962.80,793.64 983.63,741.93 1004.46,817.13 1025.29,731.12 1046.12,812.57 1066.95,779.03 1087.78,857.16 1108.61,830.63 1129.44,804.89 1150.27,815.19 1171.10,816.37 1191.93,815.19 1212.76,704.86" fill="none" stroke="#4f8b8b" stroke-width="4.0" stroke-linejoin="round" stroke-linecap="butt"/>
<g fill="#4f8b8b">
<circle cx="129.60" cy="847.14" r="6.85"/>
<circle cx="150.43" cy="744.70" r="6.85"/>
<circle cx="171.26" cy="764.10" r="6.85"/>
<circle cx="192.09" cy="800.53" r="6.85"/>
<circle cx="212.92" cy="834.39" r="6.85"/>
<circle cx="233.75" cy="876.17" r="6.85"/>
<circle cx="254.58" cy="767.27" r="6.85"/>
<circle cx="275.41" cy="791.43" r="6.85"/>
<circle cx="296.24" cy="868.05" r="6.85"/>
<circle cx="317.07" cy="849.64" r="6.85"/>
<circle cx="337.90" cy="764.66" r="6.85"/>
<circle cx="358.73" cy="799.46" r="6.85"/>
<circle cx="379.56" cy="768.46" r="6.85"/>
<circle cx="400.39" cy="789.84" r="6.85"/>
<circle cx="421.22" cy="844.89" r="6.85"/>
<circle cx="442.05" cy="802.91" r="6.85"/>
<circle cx="462.88" cy="803.70" r="6.85"/>
<circle cx="483.71" cy="789.84" r="6.85"/>
<circle cx="504.54" cy="797.45" r="6.85"/>
<circle cx="525.37" cy="735.59" r="6.85"/>
<circle cx="546.20" cy="792.38" r="6.85"/>
<circle cx="567.03" cy="786.08" r="6.85"/>
<circle cx="587.86" cy="754.60" r="6.85"/>
<circle cx="608.69" cy="770.95" r="6.85"/>
<circle cx="629.52" cy="849.16" r="6.85"/>
<circle cx="650.35" cy="791.62" r="6.85"/>
<circle cx="671.18" cy="859.74" r="6.85"/>
<circle cx="692.01" cy="838.31" r="6.85"/>
<circle cx="712.84" cy="811.31" r="6.85"/>
<circle cx="733.67" cy="775.19" r="6.85"/>
<circle cx="754.50" cy="779.15" r="6.85"/>
<circle cx="775.33" cy="843.30" r="6.85"/>
<circle cx="796.16" cy="831.98" r="6.85"/>
<circle cx="816.99" cy="789.37" r="6.85"/>
<circle cx="837.82" cy="825.09" r="6.85"/>
<circle cx="858.65" cy="747.47" r="6.85"/>
<circle cx="879.48" cy="808.30" r="6.85"/>
<circle cx="900.31" cy="810.04" r="6.85"/>
<circle cx="921.14" cy="702.84" r="6.85"/>
<circle cx="941.97" cy="809.56" r="6.85"/>
<circle cx="962.80" cy="793.64" r="6.85"/>
<circle cx="983.63" cy="741.93" r="6.85"/>
<circle cx="1004.46" cy="817.13" r="6.85"/>
<circle cx="1025.29" cy="731.12" r="6.85"/>
<circle cx="1046.12" cy="812.57" r="6.85"/>
<circle cx="1066.95" cy="779.03" r="6.85"/>
<circle cx="1087.78" cy="857.16" r="6.85"/>
<circle cx="1108.61" cy="830.63" r="6.85"/>
<circle cx="1129.44" cy="804.89" r="6.85"/>
<circle cx="1150.27" cy="815.19" r="6.85"/>
<circle cx="1171.10" cy="816.37" r="6.85"/>
<circle cx="1191.93" cy="815.19" r="6.85"/>
<circle cx="1212.76" cy="704.86" r="6.85"/>
</g>
<polyline points="129.60,819.94 150.43,759.35 171.26,807.27 192.09,789.72 212.92,784.89 233.75,833.24 254.58,829.24 275.41,831.42 296.24,720.54 317.07,781.80 337.90,828.45 358.73,726.32 379.56,737.65 400.39,800.93 421.22,750.76 442.05,753.29 462.88,787.35 483.71,793.64 504.54,836.57 525.37,815.11 546.20,824.41 567.03,775.98 587.86,819.38 608.69,838.31 629.52,782.32 650.35,775.98 671.18,798.16 692.01,782.32 712.84,783.51 733.67,774.24 754.50,777.25 775.33,806.47 796.16,818.35 816.99,838.31 837.82,827.70 858.65,820.65 879.48,829.44 900.31,802.51 921.14,783.55 941.97,795.39 962.80,788.65 983.63,783.11 1004.46,794.99 1025.29,813.32 1046.12,797.37 1066.95,828.45 1087.78,816.37 1108.61,810.83 1129.44,800.45 1150.27,822.71 1171.10,798.16 1191.93,817.13 1212.76,815.86" fill="none" stroke="#a100c2" stroke-width="4.0" stroke-linejoin="round" stroke-linecap="butt"/>
<g fill="#a100c2">
<circle cx="129.60" cy="819.94" r="6.85"/>
<circle cx="150.43" cy="759.35" r="6.85"/>
<circle cx="171.26" cy="807.27" r="6.85"/>
<circle cx="192.09" cy="789.72" r="6.85"/>
<circle cx="212.92" cy="784.89" r="6.85"/>
<circle cx="233.75" cy="833.24" r="6.85"/>
<circle cx="254.58" cy="829.24" r="6.85"/>
<circle cx="275.41" cy="831.42" r="6.85"/>
<circle cx="296.24" cy="720.54" r="6.85"/>
<circle cx="317.07" cy="781.80" r="6.85"/>
<circle cx="337.90" cy="828.45" r="6.85"/>
<circle cx="358.73" cy="726.32" r="6.85"/>
<circle cx="379.56" cy="737.65" r="6.85"/>
<circle cx="400.39" cy="800.93" r="6.85"/>
<circle cx="421.22" cy="750.76" r="6.85"/>
<circle cx="442.05" cy="753.29" r="6.85"/>
<circle cx="462.88" cy="787.35" r="6.85"/>
<circle cx="483.71" cy="793.64" r="6.85"/>
<circle cx="504.54" cy="836.57" r="6.85"/>
<circle cx="525.37" cy="815.11" r="6.85"/>
<circle cx="546.20" cy="824.41" r="6.85"/>
<circle cx="567.03" cy="775.98" r="6.85"/>
<circle cx="587.86" cy="819.38" r="6.85"/>
<circle cx="608.69" cy="838.31" r="6.85"/>
<circle cx="629.52" cy="782.32" r="6.85"/>
<circle cx="650.35" cy="775.98" r="6.85"/>
<circle cx="671.18" cy="798.16" r="6.85"/>
<circle cx="692.01" cy="782.32" r="6.85"/>
<circle cx="712.84" cy="783.51" r="6.85"/>
<circle cx="733.67" cy="774.24" r="6.85"/>
<circle cx="754.50" cy="777.25" r="6.85"/>
<circle cx="775.33" cy="806.47" r="6.85"/>
<circle cx="796.16" cy="818.35" r="6.85"/>
<circle cx="816.99" cy="838.31" r="6.85"/>
<circle cx="837.82" cy="827.70" r="6.85"/>
<circle cx="858.65" cy="820.65" r="6.85"/>
<circle cx="879.48" cy="829.44" r="6.85"/>
<circle cx="900.31" cy="802.51" r="6.85"/>
<circle cx="921.14" cy="783.55" r="6.85"/>
<circle cx="941.97" cy="795.39" r="6.85"/>
<circle cx="962.80" cy="788.65" r="6.85"/>
<circle cx="983.63" cy="783.11" r="6.85"/>
<circle cx="1004.46" cy="794.99" r="6.85"/>
<circle cx="1025.29" cy="813.32" r="6.85"/>
<circle cx="1046.12" cy="797.37" r="6.85"/>
<circle cx="1066.95" cy="828.45" r="6.85"/>
<circle cx="1087.78" cy="816.37" r="6.85"/>
<circle cx="1108.61" cy="810.83" r="6.85"/>
<circle cx="1129.44" cy="800.45" r="6.85"/>
<circle cx="1150.27" cy="822.71" r="6.85"/>
<circle cx="1171.10" cy="798.16" r="6.85"/>
<circle cx="1191.93" cy="817.13" r="6.85"/>
<circle cx="1212.76" cy="815.86" r="6.85"/>
</g>
<polyline points="129.60,782.12 150.43,774.40 171.26,781.13 192.09,817.56 212.92,724.50 233.75,814.99 254.58,807.27 275.41,836.57 296.24,775.98 317.07,808.30 337.90,716.74 358.73,740.74 379.56,759.11 400.39,765.92 421.22,757.85 442.05,770.44 462.88,787.35 483.71,791.62 504.54,827.70 525.37,821.92 546.20,814.35 567.03,761.33 587.86,794.99 608.69,821.92 629.52,776.77 650.35,784.30 671.18,794.99 692.01,784.06 712.84,788.65 733.67,798.71 754.50,780.54 775.33,810.04 796.16,814.35 816.99,813.84 837.82,838.31 858.65,839.54 879.48,829.44 900.31,810.04 921.14,789.13 941.97,796.69 962.80,825.09 983.63,813.84 1004.46,838.31 1025.29,831.98 1046.12,797.45 1066.95,840.33 1087.78,834.00 1108.61,802.51 1129.44,811.82 1150.27,811.82 1171.10,802.51 1191.93,812.57 1212.76,823.11" fill="none" stroke="#f0b6c1" stroke-width="4.0" stroke-linejoin="round" stroke-linecap="butt"/>
<g fill="#f0b6c1">
<circle cx="129.60" cy="782.12" r="6.85"/>
<circle cx="150.43" cy="774.40" r="6.85"/>
<circle cx="171.26" cy="781.13" r="6.85"/>
<circle cx="192.09" cy="817.56" r="6.85"/>
<circle cx="212.92" cy="724.50" r="6.85"/>
<circle cx="233.75" cy="814.99" r="6.85"/>
<circle cx="254.58" cy="807.27" r="6.85"/>
<circle cx="275.41" cy="836.57" r="6.85"/>
<circle cx="296.24" cy="775.98" r="6.85"/>
<circle cx="317.07" cy="808.30" r="6.85"/>
<circle cx="337.90" cy="716.74" r="6.85"/>
<circle cx="358.73" cy="740.74" r="6.85"/>
<circle cx="379.56" cy="759.11" r="6.85"/>
<circle cx="400.39" cy="765.92" r="6.85"/>
<circle cx="421.22" cy="757.85" r="6.85"/>
<circle cx="442.05" cy="770.44" r="6.85"/>
<circle cx="462.88" cy="787.35" r="6.85"/>
<circle cx="483.71" cy="791.62" r="6.85"/>
<circle cx="504.54" cy="827.70" r="6.85"/>
<circle cx="525.37" cy="821.92" r="6.85"/>
<circle cx="546.20" cy="814.35" r="6.85"/>
<circle cx="567.03" cy="761.33" r="6.85"/>
<circle cx="587.86" cy="794.99" r="6.85"/>
<circle cx="608.69" cy="821.92" r="6.85"/>
<circle cx="629.52" cy="776.77" r="6.85"/>
<circle cx="650.35" cy="784.30" r="6.85"/>
<circle cx="671.18" cy="794.99" r="6.85"/>
<circle cx="692.01" cy="784.06" r="6.85"/>
<circle cx="712.84" cy="788.65" r="6.85"/>
<circle cx="733.67" cy="798.71" r="6.85"/>
<circle cx="754.50" cy="780.54" r="6.85"/>
<circle cx="775.33" cy="810.04" r="6.85"/>
<circle cx="796.16" cy="814.35" r="6.85"/>
<circle cx="816.99" cy="813.84" r="6.85"/>
<circle cx="837.82" cy="838.31" r="6.85"/>
<circle cx="858.65" cy="839.54" r="6.85"/>
<circle cx="879.48" cy="829.44" r="6.85"/>
<circle cx="900.31" cy="810.04" r="6.85"/>
<circle cx="921.14" cy="789.13" r="6.85"/>
<circle cx="941.97" cy="796.69" r="6.85"/>
<circle cx="962.80" cy="825.09" r="6.85"/>
<circle cx="983.63" cy="813.84" r="6.85"/>
<circle cx="1004.46" cy="838.31" r="6.85"/>
<circle cx="1025.29" cy="831.98" r="6.85"/>
<circle cx="1046.12" cy="797.45" r="6.85"/>
<circle cx="1066.95" cy="840.33" r="6.85"/>
<circle cx="1087.78" cy="834.00" r="6.85"/>
<circle cx="1108.61" cy="802.51" r="6.85"/>
<circle cx="1129.44" cy="811.82" r="6.85"/>
<circle cx="1150.27" cy="811.82" r="6.85"/>
<circle cx="1171.10" cy="802.51" r="6.85"/>
<circle cx="1191.93" cy="812.57" r="6.85"/>
<circle cx="1212.76" cy="823.11" r="6.85"/>
</g>
<line x1="129.60" y1="805.88" x2="1212.76" y2="791.15" stroke="#4f8b8b" stroke-width="3.8" stroke-dasharray="13.61 5.9"/>
</g>
<rect x="75.8" y="680.15" width="1190.90" height="237.60" fill="none" stroke="#262626" stroke-width="1.45"/>
<g stroke="#262626" stroke-width="1.45">
<line x1="129.60" x2="129.60" y1="917.75" y2="923.05"/>
<line x1="212.92" x2="212.92" y1="917.75" y2="923.05"/>
<line x1="296.24" x2="296.24" y1="917.75" y2="923.05"/>
<line x1="379.56" x2="379.56" y1="917.75" y2="923.05"/>
<line x1="462.88" x2="462.88" y1="917.75" y2="923.05"/>
<line x1="546.20" x2="546.20" y1="917.75" y2="923.05"/>
<line x1="629.52" x2="629.52" y1="917.75" y2="923.05"/>
<line x1="712.84" x2="712.84" y1="917.75" y2="923.05"/>
<line x1="796.16" x2="796.16" y1="917.75" y2="923.05"/>
<line x1="879.48" x2="879.48" y1="917.75" y2="923.05"/>
<line x1="962.80" x2="962.80" y1="917.75" y2="923.05"/>
<line x1="1046.12" x2="1046.12" y1="917.75" y2="923.05"/>
<line x1="1129.44" x2="1129.44" y1="917.75" y2="923.05"/>
<line x1="1212.76" x2="1212.76" y1="917.75" y2="923.05"/>
<line x1="70.50" x2="75.8" y1="878.15" y2="878.15"/>
<line x1="70.50" x2="75.8" y1="798.95" y2="798.95"/>
<line x1="70.50" x2="75.8" y1="719.75" y2="719.75"/>
</g>
<g font-size="21.875">
<text x="129.60" y="944.65" text-anchor="middle">1968</text>
<text x="212.92" y="944.65" text-anchor="middle">1972</text>
<text x="296.24" y="944.65" text-anchor="middle">1976</text>
<text x="379.56" y="944.65" text-anchor="middle">1980</text>
<text x="462.88" y="944.65" text-anchor="middle">1984</text>
<text x="546.20" y="944.65" text-anchor="middle">1988</text>
<text x="629.52" y="944.65" text-anchor="middle">1992</text>
<text x="712.84" y="944.65" text-anchor="middle">1996</text>
<text x="796.16" y="944.65" text-anchor="middle">2000</text>
<text x="879.48" y="944.65" text-anchor="middle">2004</text>
<text x="962.80" y="944.65" text-anchor="middle">2008</text>
<text x="1046.12" y="944.65" text-anchor="middle">2012</text>
<text x="1129.44" y="944.65" text-anchor="middle">2016</text>
<text x="1212.76" y="944.65" text-anchor="middle">2020</text>
<text x="64.70" y="887.50" text-anchor="end" font-size="25.0">−2</text>
<text x="64.70" y="808.30" text-anchor="end" font-size="25.0">0</text>
<text x="64.70" y="729.10" text-anchor="end" font-size="25.0">2</text>
</g>
<rect x="86.5" y="690.5" width="194.0" height="103.80" rx="4" ry="4" fill="#fff" fill-opacity="0.8" stroke="#ccc" stroke-opacity="0.8" stroke-width="1.5"/>
<line x1="93.7" x2="141.2" y1="708.1" y2="708.1" stroke="#4f8b8b" stroke-width="4.0"/>
<circle cx="117.85" cy="708.1" r="6.85" fill="#4f8b8b"/>
<text x="157.1" y="716.10" font-size="22.1">CRI</text>
<line x1="93.7" x2="141.2" y1="740.7" y2="740.7" stroke="#a100c2" stroke-width="4.0"/>
<circle cx="117.85" cy="740.7" r="6.85" fill="#a100c2"/>
<text x="157.1" y="748.70" font-size="22.1">SSS in Apr</text>
<line x1="93.7" x2="141.2" y1="773.2" y2="773.2" stroke="#f0b6c1" stroke-width="4.0"/>
<circle cx="117.85" cy="773.2" r="6.85" fill="#f0b6c1"/>
<text x="157.1" y="781.20" font-size="22.1">SSS in Jun</text>
<text x="125.0" y="668.1" font-size="29.45">KMA CRI</text>
<text class="lab" x="0" y="660.6" font-size="29.17">C</text>
</g>
</svg></body></html>
